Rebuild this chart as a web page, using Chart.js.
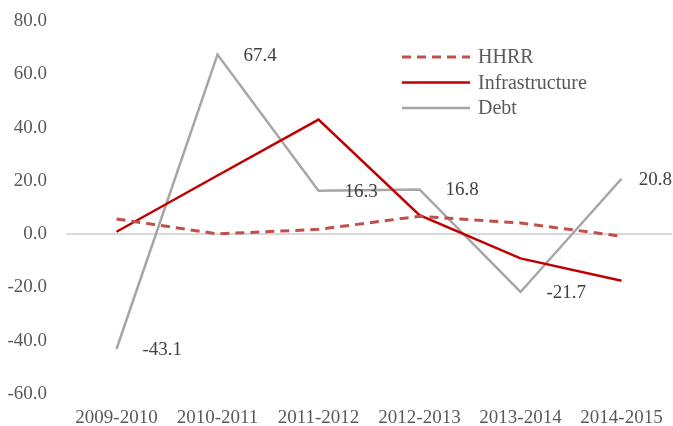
<!DOCTYPE html>
<html>
<head>
<meta charset="utf-8">
<script src="https://cdn.jsdelivr.net/npm/chart.js@4"></script>
<style>
  html, body { margin: 0; padding: 0; background: #fff; }
  #wrap { width: 673px; height: 426px; position: relative; }
</style>
</head>
<body>
<div id="wrap"><canvas id="chart"></canvas></div>
<script>
const years = ['2009-2010', '2010-2011', '2011-2012', '2012-2013', '2013-2014', '2014-2015'];
const hhrr = [5.7, 0.1, 1.8, 6.7, 4.2, -0.8];
const infrastructure = [0.9, 22.0, 43.0, 7.1, -9.1, -17.5];
const debt = [-43.1, 67.4, 16.3, 16.8, -21.7, 20.8];

const FONT = '"Liberation Serif", "DejaVu Serif", serif';

// value labels next to the Debt points
const debtLabels = {
  id: 'debtLabels',
  afterDatasetsDraw(chart) {
    const ctx = chart.ctx;
    const meta = chart.getDatasetMeta(2);
    ctx.save();
    ctx.font = '19px ' + FONT;
    ctx.fillStyle = '#404040';
    ctx.textAlign = 'left';
    ctx.textBaseline = 'middle';
    meta.data.forEach((pt, i) => {
      const txt = debt[i].toFixed(1);
      const w = ctx.measureText(txt).width;
      const x = Math.min(pt.x + 26, chart.width - w - 1);
      ctx.fillText(txt, x, pt.y + 1);
    });
    ctx.restore();
  }
};

// legend drawn inside the plot, top right
const insideLegend = {
  id: 'insideLegend',
  afterDraw(chart) {
    const ctx = chart.ctx;
    ctx.save();
    ctx.font = '20px ' + FONT;
    ctx.textAlign = 'left';
    ctx.textBaseline = 'middle';
    chart.data.datasets.forEach((ds, i) => {
      const y = 57 + i * 25.5;
      ctx.strokeStyle = ds.borderColor;
      ctx.lineWidth = ds.borderWidth;
      ctx.setLineDash(ds.borderDash || []);
      ctx.beginPath();
      ctx.moveTo(402, y);
      ctx.lineTo(470, y);
      ctx.stroke();
      ctx.setLineDash([]);
      ctx.fillStyle = '#595959';
      ctx.fillText(ds.label, 478, y + 1);
    });
    ctx.restore();
  }
};

new Chart(document.getElementById('chart'), {
  type: 'line',
  data: {
    labels: years,
    datasets: [
      { label: 'HHRR', data: hhrr, borderColor: '#C0504D', borderWidth: 3, borderDash: [9, 6] },
      { label: 'Infrastructure', data: infrastructure, borderColor: '#C00000', borderWidth: 2.5 },
      { label: 'Debt', data: debt, borderColor: '#A6A6A6', borderWidth: 2.5 }
    ]
  },
  options: {
    responsive: true,
    maintainAspectRatio: false,
    animation: false,
    layout: { padding: { top: 21, right: 1, left: 0, bottom: 0 } },
    plugins: { legend: { display: false }, tooltip: { enabled: false } },
    elements: {
      line: { tension: 0, fill: false, borderCapStyle: 'butt' },
      point: { radius: 0 }
    },
    scales: {
      x: {
        offset: true,
        grid: { display: false },
        border: { display: false },
        ticks: { color: '#595959', font: { family: FONT, size: 19 }, padding: 5, maxRotation: 0 },
        afterFit(s) { s.height = 32; }
      },
      y: {
        min: -60,
        max: 80,
        border: { display: false },
        grid: {
          drawTicks: false,
          lineWidth: 2,
          color: c => c.tick && c.tick.value === 0 ? '#D9D9D9' : 'rgba(0,0,0,0)'
        },
        ticks: {
          stepSize: 20,
          color: '#595959',
          font: { family: FONT, size: 19 },
          padding: 19,
          callback: v => v.toFixed(1)
        },
        afterFit(s) {
          s.width = 66;
          s.paddingTop = 0;
          s.paddingBottom = 0;
        }
      }
    }
  },
  plugins: [debtLabels, insideLegend]
});
</script>
</body>
</html>
